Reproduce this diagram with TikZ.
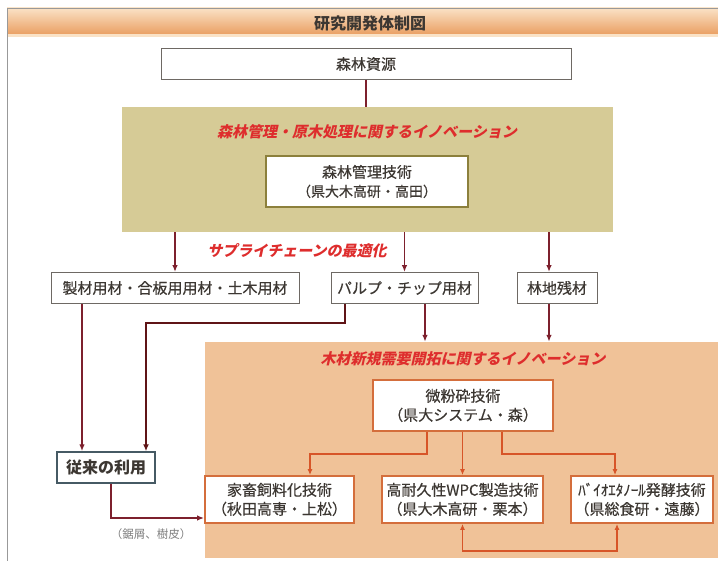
\documentclass[tikz,border=0pt]{standalone}
\usepackage{fontspec}
\setmainfont{Noto Sans CJK JP}
\newfontfamily\jpit{Noto Sans CJK JP}[FakeSlant=0.22]
\newfontfamily\jpm{Noto Sans CJK JP}[FakeBold=0.4]
\usetikzlibrary{arrows.meta}
\definecolor{darkred}{RGB}{125,32,45}
\definecolor{darkbr}{RGB}{95,20,22}
\definecolor{orln}{RGB}{215,85,40}
\definecolor{redtxt}{RGB}{222,45,45}
\definecolor{tanband}{RGB}{214,203,150}
\definecolor{peach}{RGB}{240,194,152}
\definecolor{olivebd}{RGB}{140,128,60}
\definecolor{orbd}{RGB}{212,110,60}
\definecolor{graybd}{RGB}{110,105,100}
\definecolor{slatebd}{RGB}{70,90,100}
\definecolor{txt}{RGB}{60,55,50}
\definecolor{titletop}{RGB}{250,226,198}
\definecolor{titlebot}{RGB}{234,160,100}
\begin{document}
\begin{tikzpicture}[x=1pt,y=-1pt,
  plainbox/.style={draw=graybd,line width=0.9pt,fill=white,inner sep=0pt,align=center,text=txt,
    font=\jpm\fontsize{15}{18}\selectfont},
  techbox/.style={fill=white,inner sep=0pt,align=center,text=txt,line width=1.8pt,
    font=\jpm\fontsize{15}{19}\selectfont},
  redit/.style={text=redtxt,font=\jpit\bfseries\fontsize{15}{18}\selectfont,inner sep=0pt},
  band/.style={inner sep=0pt,draw=none},
  dr/.style={draw=darkred,line width=1.6pt,-{Latex[length=7pt,width=5.5pt]}},
  drthick/.style={draw=darkbr,line width=2.4pt,-{Latex[length=7pt,width=6pt]}},
  ol/.style={draw=orln,line width=1.5pt,-{Latex[length=6pt,width=5pt]}},
  ol2/.style={draw=orln,line width=1.5pt,{Latex[length=6pt,width=5pt]}-{Latex[length=6pt,width=5pt]}},
  plain/.style={draw=darkred,line width=1.6pt}
]
\useasboundingbox (0,0) rectangle (718,561);
\fill[white] (0,0) rectangle (718,561);
% frame and title bar
\shade[top color=titletop,bottom color=titlebot] (7,8) rectangle (718,34);
\fill[titletop] (7,34) rectangle (718,37);
\draw[gray!80,line width=0.8pt] (7,561) -- (7,8) -- (718,8);
\node[font=\bfseries\fontsize{16}{18}\selectfont,text=txt,inner sep=0pt] (title) at (370,23) {研究開発体制図};

% source
\node[plainbox,minimum width=410,minimum height=31] (src) at (366,64) {森林資源};

% band 1
\node[band,fill=tanband,minimum width=491,minimum height=125] (band1) at (367.5,169.5) {};
\node[redit] (t1) at (367,132) {森林管理・原木処理に関するイノベーション};
\node[techbox,draw=olivebd,minimum width=202,minimum height=51] (fm) at (367,181.5)
  {森林管理技術\\{\fontsize{14}{17}\selectfont（県大木高研・高田）}};
\draw[plain] (src.south) -- (src.south |- band1.north);

% middle row
\node[redit] (t2) at (297,251) {サプライチェーンの最適化};
\node[plainbox,minimum width=248,minimum height=31] (m1) at (175,288) {製材用材・合板用用材・土木用材};
\node[plainbox,minimum width=147,minimum height=31] (m2) at (404.5,288) {パルプ・チップ用材};
\node[plainbox,minimum width=80,minimum height=31] (m3) at (557,288) {林地残材};
\coordinate (m3a) at ([xshift=-8pt]m3.north);
\draw[dr] (m1.north |- band1.south) -- (m1.north);
\draw[dr] (m2.north |- band1.south) -- (m2.north);
\draw[dr] (m3a |- band1.south) -- (m3a);

% band 2
\node[band,fill=peach,minimum width=513,minimum height=216] (band2) at (461.5,450) {};
\node[redit] (t3) at (463,359) {木材新規需要開拓に関するイノベーション};
\node[techbox,draw=orbd,minimum width=180,minimum height=51] (fine) at (463,405.5)
  {微粉砕技術\\（県大システム・森）};
\node[techbox,draw=orbd,minimum width=149,minimum height=47] (f1) at (279.5,499.5)
  {家畜飼料化技術\\（秋田高専・上松）};
\node[techbox,draw=orbd,minimum width=161,minimum height=47] (f2) at (462.5,499.5)
  {高耐久性WPC製造技術\\（県大木高研・栗本）};
\node[techbox,draw=orbd,minimum width=142,minimum height=47] (f3) at (642,499.5)
  {ﾊﾞｲｵｴﾀﾉｰﾙ発酵技術\\（県総食研・遠藤）};

% conventional use
\node[plainbox,draw=slatebd,line width=1.5pt,font=\bfseries\fontsize{16}{18}\selectfont,
  minimum width=98,minimum height=31] (conv) at (106,467.5) {従来の利用};
\node[text=gray,font=\fontsize{11.5}{13}\selectfont,inner sep=0pt] (lbl) at (151,534) {（鋸屑、樹皮）};

% arrows m -> band2 / conv
\coordinate (m2r) at ([xshift=20.5pt]m2.south);
\coordinate (m2l) at ([xshift=-59.5pt]m2.south);
\coordinate (m3b) at ([xshift=-8pt]m3.south);
\coordinate (cl) at ([xshift=-24pt]conv.north);
\coordinate (cr) at ([xshift=40pt]conv.north);
\draw[dr] (m2r) -- (m2r |- band2.north);
\draw[dr] (m3b) -- (m3b |- band2.north);
\draw[dr] (m1.south -| cl) -- (cl);
\draw[drthick] (m2l) -- ++(0,19) -| (cr);
\coordinate (cb) at ([xshift=5pt]conv.south);
\coordinate (f1w) at ([yshift=-18.5pt]f1.west);
\draw[dr] (cb) |- (f1w);

% fine -> f1,f2,f3
\coordinate (fl) at ([xshift=-36pt]fine.south);
\coordinate (fr) at ([xshift=39pt]fine.south);
\coordinate (f1n) at ([xshift=30.5pt]f1.north);
\coordinate (f3n) at ([xshift=-27pt]f3.north);
\draw[ol] (fl) -- ++(0,22) -| (f1n);
\draw[ol] (fine.south -| f2.north) -- (f2.north);
\draw[ol] (fr) -- ++(0,22) -| (f3n);
\coordinate (f3s) at ([xshift=-25pt]f3.south);
\draw[ol2] (f2.south) |- ++(77,27) coordinate (bm) -| (f3s);
\end{tikzpicture}
\end{document}
